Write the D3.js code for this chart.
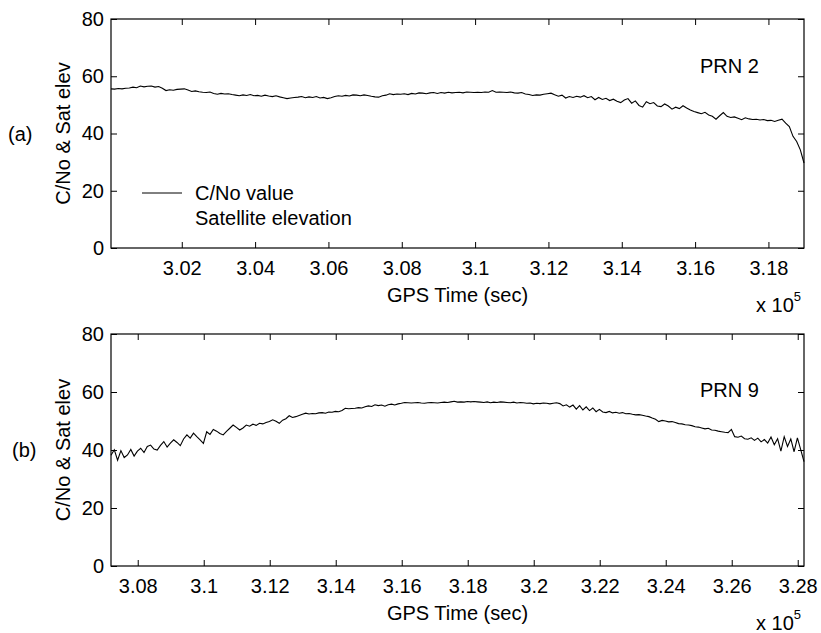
<!DOCTYPE html>
<meta charset="utf-8">
<head>
	<title>C/No and satellite elevation</title>
	<script src="https://d3js.org/d3.v7.min.js"></script>
</head>
<style type="text/css">
	body {
		margin: 0;
		background: #fff;
	}
	svg {
		display: block;
		font-family: "Liberation Sans", Arial, sans-serif;
	}
	.axis text {
		font-size: 20px;
		fill: #000;
	}
	.axis line {
		stroke: #000;
	}
	.frame {
		fill: none;
		stroke: #000;
		stroke-width: 1.2px;
	}
	.trace {
		fill: none;
		stroke: #000;
		stroke-width: 1.1px;
	}
	.lbl {
		font-size: 20px;
		fill: #000;
	}
</style>
<body>
<script>
	// sample spacing of the logged C/No values (sec)
	var tStep = 100;

	// (a) PRN 2, first sample at 300070 s
	var startA = 300070;
	var cnoA = [
		55.6, 55.5, 55.7, 55.6, 55.8, 55.9, 56.2, 56.0, 56.6, 56.3,
		56.5, 56.6, 56.2, 56.4, 55.8, 55.0, 55.3, 55.1, 55.4, 55.5,
		55.6, 55.2, 54.7, 54.9, 54.6, 54.4, 54.3, 54.5, 54.0, 53.7,
		54.0, 53.8, 53.9, 53.6, 53.4, 53.2, 53.5, 53.3, 53.6, 53.2,
		53.3, 53.0, 53.4, 53.1, 52.9, 53.2, 52.8, 52.5, 52.2, 52.4,
		52.6, 52.7, 52.9, 52.5, 52.8, 52.6, 52.9, 52.4, 52.6, 52.2,
		52.5, 52.9, 53.2, 53.0, 53.3, 53.1, 53.5, 53.4, 53.2, 53.5,
		53.3, 53.0, 52.8, 52.7, 53.2, 53.4, 53.9, 53.6, 53.8, 53.7,
		53.9, 53.6, 54.0, 53.8, 54.2, 54.1, 53.9, 54.2, 54.3, 54.0,
		54.3, 54.1, 54.4, 54.2, 54.3, 54.4, 54.2, 54.5, 54.4, 54.3,
		54.4, 54.3, 54.5, 54.4, 55.0, 54.4, 54.5, 54.4, 54.3, 54.5,
		54.2, 54.1, 54.3, 53.8, 53.6, 53.3, 53.5, 53.4, 53.7, 53.9,
		54.1, 53.5, 53.0, 53.4, 52.4, 52.9, 52.6, 53.0, 52.7, 53.2,
		52.5, 52.9, 51.8, 52.6, 51.9, 52.3, 51.5, 52.0, 51.3, 50.8,
		51.7, 52.2, 50.6, 51.4, 49.8, 49.2, 51.1, 50.4, 50.8, 49.6,
		49.4, 50.3, 49.6, 48.5, 49.2, 48.7, 49.7, 48.9, 48.2, 47.7,
		47.3, 46.9, 47.4, 46.5, 46.0, 45.0, 46.2, 47.3, 46.0, 45.6,
		45.8, 45.3, 44.8, 45.5, 45.1, 44.9, 45.0, 44.7, 44.9, 44.5,
		44.6, 44.2, 44.6, 45.0, 43.6, 42.4, 39.0, 37.2, 34.3, 29.7
	];
	var ticksA = [302000, 304000, 306000, 308000, 310000, 312000, 314000, 316000, 318000];

	// (b) PRN 9, first sample at 307190 s
	var startB = 307190;
	var cnoB = [
		38.2, 40.1, 36.5, 39.8, 37.4, 38.3, 40.2, 37.9, 39.6, 40.6,
		39.1, 41.2, 41.7, 40.3, 40.0, 41.6, 42.9, 41.0, 42.4, 43.5,
		42.6, 41.5, 43.8, 45.2, 44.1, 45.8, 44.6, 43.5, 42.3, 46.3,
		45.4, 47.1, 46.5, 45.7, 45.2, 46.4, 47.5, 48.6, 47.8, 46.9,
		47.6, 48.6, 48.2, 48.9, 48.5, 49.2, 49.0, 49.5, 49.8, 50.4,
		49.9, 49.2, 50.3, 50.8, 51.8, 51.2, 51.5, 51.9, 52.3, 52.7,
		52.4, 52.6, 52.5, 52.8, 52.9, 52.7, 53.1, 53.0, 53.3, 53.2,
		53.6, 54.4, 54.2, 54.3, 54.4, 54.6, 54.5, 54.9, 55.2, 55.0,
		55.6, 55.3, 55.5, 55.1, 55.6, 55.8, 55.5, 55.9, 56.1, 56.4,
		56.3, 56.2, 56.3, 56.4, 56.2, 56.1, 56.3, 56.4, 56.3, 56.2,
		56.4, 56.5, 56.4, 56.6, 56.8, 56.5, 56.6, 56.5, 56.7, 56.6,
		56.7, 56.6, 56.5, 56.4, 56.6, 56.3, 56.5, 56.4, 56.6, 56.5,
		56.4, 56.3, 56.5, 56.2, 56.4, 56.3, 56.1, 56.2, 55.9, 56.1,
		56.0, 56.2, 56.1, 55.9, 56.1, 56.3, 56.0, 55.2, 55.6, 54.8,
		55.5, 54.1, 55.3, 53.8, 54.9, 53.6, 54.5, 53.2, 54.0, 53.1,
		52.9, 53.3, 52.8, 53.0, 52.7, 52.9, 52.5, 52.6, 52.3, 52.1,
		52.2, 52.0, 51.7, 51.5, 51.0, 50.6, 49.8, 50.2, 50.0, 49.7,
		49.8, 49.5, 49.1, 49.0, 48.7, 48.6, 48.4, 48.0, 47.9, 47.6,
		47.3, 47.5, 46.9, 46.8, 46.5, 46.3, 46.1, 46.0, 47.1, 44.6,
		44.4, 44.8, 43.9, 43.7, 44.2, 43.3, 44.1, 42.8, 43.6, 42.4,
		44.5, 41.8, 43.9, 39.6, 44.6, 41.2, 43.8, 39.4, 44.2, 40.1, 36.0
	];
	var ticksB = [308000, 310000, 312000, 314000, 316000, 318000, 320000, 322000, 324000, 326000, 328000];

	var yTicks = [0, 20, 40, 60, 80];
	var legendLabels = ["C/No value", "Satellite elevation"];

	var width = 821,
		height = 633;

	var svg = d3.select("body").append("svg")
		.attr("width", width)
		.attr("height", height);

	function fmt(d) {
		return String(+(d / 1e5).toFixed(2));
	}

	function panel(opt) {
		var left = 111, right = 804;
		var x = d3.scaleLinear()
			.domain([opt.start, opt.start + (opt.values.length - 1) * tStep])
			.range([left, right]);
		var y = d3.scaleLinear().domain([0, 80]).range([opt.bottom, opt.top]);

		var g = svg.append("g");

		var xb = g.append("g").attr("class", "axis")
			.attr("transform", "translate(0," + opt.bottom + ")")
			.call(d3.axisBottom(x).tickValues(opt.ticks).tickFormat(fmt).tickSize(-6).tickSizeOuter(0));
		xb.selectAll("text").attr("y", 13).attr("dy", "0.71em");

		g.append("g").attr("class", "axis")
			.attr("transform", "translate(0," + opt.top + ")")
			.call(d3.axisTop(x).tickValues(opt.ticks).tickFormat("").tickSize(-6).tickSizeOuter(0));

		g.append("g").attr("class", "axis")
			.attr("transform", "translate(" + left + ",0)")
			.call(d3.axisLeft(y).tickValues(yTicks).tickSize(-6).tickSizeOuter(0).tickPadding(7));

		g.append("g").attr("class", "axis")
			.attr("transform", "translate(" + right + ",0)")
			.call(d3.axisRight(y).tickValues(yTicks).tickFormat("").tickSize(-6).tickSizeOuter(0));

		g.selectAll(".domain").remove();

		var line = d3.line()
			.x(function(d, i) { return x(opt.start + i * tStep); })
			.y(function(d) { return y(d); });

		g.append("path")
			.datum(opt.values)
			.attr("class", "trace")
			.attr("d", line);

		g.append("rect")
			.attr("class", "frame")
			.attr("x", left).attr("y", opt.top)
			.attr("width", right - left).attr("height", opt.bottom - opt.top);

		// labels
		g.append("text").attr("class", "lbl")
			.attr("transform", "translate(70," + ((opt.top + opt.bottom) / 2) + ") rotate(-90)")
			.attr("text-anchor", "middle")
			.text("C/No & Sat elev");

		g.append("text").attr("class", "lbl")
			.attr("x", opt.tagX).attr("y", (opt.top + opt.bottom) / 2 + 7)
			.text(opt.tag);

		g.append("text").attr("class", "lbl")
			.attr("x", (left + right) / 2).attr("y", opt.bottom + 54)
			.attr("text-anchor", "middle")
			.text("GPS Time (sec)");

		var mult = g.append("text").attr("class", "lbl")
			.attr("x", 756).attr("y", opt.bottom + 64);
		mult.append("tspan").text("x 10");
		mult.append("tspan").attr("dy", -11).style("font-size", "13px").text("5");

		g.append("text").attr("class", "lbl")
			.attr("x", 700).attr("y", opt.prnY)
			.text(opt.prn);

		return g;
	}

	var gA = panel({ values: cnoA, start: startA, ticks: ticksA, top: 19, bottom: 248,
		tag: "(a)", tagX: 8, prn: "PRN 2", prnY: 73 });
	panel({ values: cnoB, start: startB, ticks: ticksB, top: 334, bottom: 566,
		tag: "(b)", tagX: 12, prn: "PRN 9", prnY: 397 });

	// legend (only the C/No line has a visible sample)
	gA.append("line")
		.attr("x1", 142).attr("x2", 182)
		.attr("y1", 193).attr("y2", 193)
		.attr("stroke", "#000").attr("stroke-width", 1);

	gA.selectAll(".leg")
		.data(legendLabels)
		.enter().append("text")
		.attr("class", "lbl leg")
		.attr("x", 195)
		.attr("y", function(d, i) { return 200 + i * 25; })
		.text(function(d) { return d; });
</script>
</body>
